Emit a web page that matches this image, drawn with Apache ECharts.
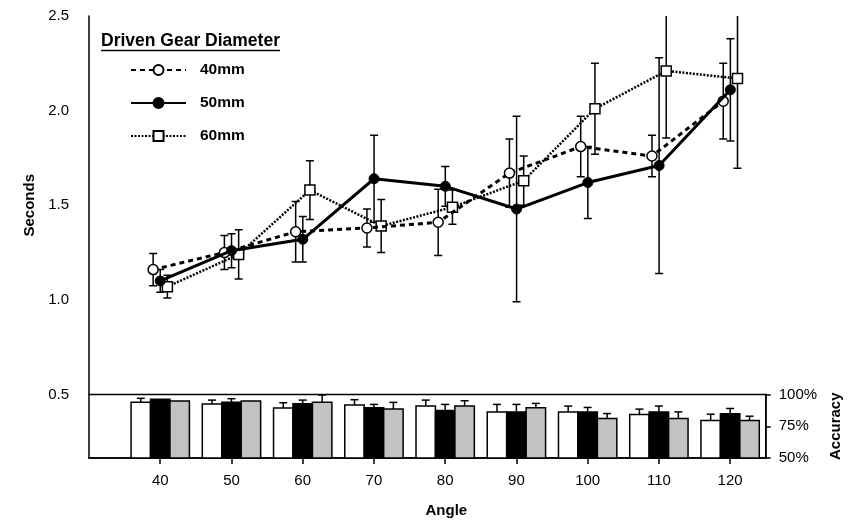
<!DOCTYPE html>
<html><head><meta charset="utf-8">
<script src="https://cdn.jsdelivr.net/npm/echarts@6/dist/echarts.min.js"></script>
<style>html,body{margin:0;padding:0;background:#fff}#c{width:851px;height:524px}</style>
</head><body><div id="c"></div>
<script>
// ---- data ----
const angles = [40, 50, 60, 70, 80, 90, 100, 110, 120];
const seriesNames = ['40mm', '50mm', '60mm'];

const secs40 = [1.16, 1.25, 1.36, 1.38, 1.41, 1.67, 1.81, 1.76, 2.05];
const err40  = [0.085, 0.09, 0.16, 0.10, 0.175, 0.18, 0.16, 0.11, 0.20];
const secs50 = [1.10, 1.26, 1.32, 1.64, 1.60, 1.48, 1.62, 1.71, 2.11];
const err50  = [0.06, 0.09, 0.12, 0.23, 0.105, 0.49, 0.19, 0.57, 0.27];
const secs60 = [1.07, 1.24, 1.58, 1.39, 1.49, 1.63, 2.01, 2.21, 2.17];
const err60  = [0.06, 0.13, 0.155, 0.14, 0.09, 0.13, 0.24, 0.355, 0.475];

const acc40    = [93.8, 92.5, 89.3, 91.7, 90.9, 86.3, 86.3, 84.3, 79.5];
const accErr40 = [3.2, 3.1, 4.2, 4.2, 4.7, 5.9, 4.6, 4.2, 5.0];
const acc50    = [96.2, 93.8, 92.7, 89.5, 87.5, 86.3, 86.3, 86.3, 84.8];
const accErr50 = [0, 2.9, 2.9, 2.7, 4.7, 5.9, 3.5, 4.6, 4.2];
const acc60    = [94.8, 94.8, 93.8, 88.5, 90.9, 89.5, 81.1, 81.1, 79.5];
const accErr60 = [0, 0, 5.8, 5.3, 4.2, 3.5, 3.9, 5.2, 3.4];

const secTicks = [0.5, 1.0, 1.5, 2.0, 2.5];
const accTicks = [50, 75, 100];

// ---- layout / style ----
const FONT = '"Liberation Sans", Arial, sans-serif';
const X_MIN = 30, X_MAX = 125;
const ACC_MIN = 50, ACC_MAX = 100;
const LINE_SHIFT = 1;     // angle units horizontal offset of 40mm / 60mm points
const BAR_W = 2.73;       // bar width in angle units

function lineData(vals, shift) { return angles.map((a, i) => [a + shift, vals[i]]); }
function errData(vals, errs, shift) { return angles.map((a, i) => [a + shift, vals[i] - errs[i], vals[i] + errs[i]]); }
function barData(vals, errs, shift) { return angles.map((a, i) => [a + shift, vals[i], errs[i]]); }

function renderErr(params, api) {
  const x = api.value(0), lo = api.value(1), hi = api.value(2);
  const p1 = api.coord([x, lo]), p2 = api.coord([x, hi]);
  const cw = 4, st = { stroke: '#000', lineWidth: 1.5 };
  return { type: 'group', children: [
    { type: 'line', shape: { x1: p1[0], y1: p1[1], x2: p2[0], y2: p2[1] }, style: st },
    { type: 'line', shape: { x1: p1[0] - cw, y1: p1[1], x2: p1[0] + cw, y2: p1[1] }, style: st },
    { type: 'line', shape: { x1: p2[0] - cw, y1: p2[1], x2: p2[0] + cw, y2: p2[1] }, style: st }
  ]};
}

function makeBarRenderer(fill) {
  return function (params, api) {
    const x = api.value(0), v = api.value(1), e = api.value(2);
    const tl = api.coord([x - BAR_W / 2, v]);
    const br = api.coord([x + BAR_W / 2, ACC_MIN]);
    const st = { stroke: '#000', lineWidth: 1.5 };
    const children = [];
    if (e > 0) {
      const top = api.coord([x, v + e]);
      children.push({ type: 'line', shape: { x1: top[0], y1: tl[1], x2: top[0], y2: top[1] }, style: st });
      children.push({ type: 'line', shape: { x1: top[0] - 4, y1: top[1], x2: top[0] + 4, y2: top[1] }, style: st });
    }
    children.push({ type: 'rect', shape: { x: tl[0], y: tl[1], width: br[0] - tl[0], height: br[1] - tl[1] },
      style: { fill: fill, stroke: '#000', lineWidth: 1.5 } });
    return { type: 'group', children };
  };
}

const chart = echarts.init(document.getElementById('c'), null, { renderer: 'canvas' });

// measure legend title for underline
const TITLE = 'Driven Gear Diameter';
const TITLE_FONT = 'bold 17.5px ' + FONT;
const mctx = document.createElement('canvas').getContext('2d');
mctx.font = TITLE_FONT;
const titleW = mctx.measureText(TITLE).width;

const labelStyle = { fontFamily: FONT, fontSize: 15, color: '#000' };
const nameStyle = { fontFamily: FONT, fontSize: 15, fontWeight: 'bold', color: '#000' };

const option = {
  animation: false,
  backgroundColor: '#fff',
  grid: [
    { left: 89, top: 16, width: 677, height: 378.5 },
    { left: 89, top: 394.5, width: 677, height: 63.5, show: true, borderColor: '#000', borderWidth: 1.5, backgroundColor: 'transparent' }
  ],
  xAxis: [
    { gridIndex: 0, type: 'value', min: X_MIN, max: X_MAX, show: false },
    { gridIndex: 1, type: 'value', min: X_MIN, max: X_MAX, interval: 10,
      axisLine: { lineStyle: { color: '#000', width: 1.5 } },
      axisTick: { customValues: angles, length: 6, lineStyle: { color: '#000', width: 1.5 } },
      axisLabel: Object.assign({ customValues: angles, margin: 15,
        formatter: v => (angles.indexOf(v) >= 0 ? String(v) : '') }, labelStyle),
      splitLine: { show: false },
      name: 'Angle', nameLocation: 'middle', nameGap: 45,
      nameTextStyle: Object.assign({ padding: [0, 0, 0, 38] }, nameStyle) }
  ],
  yAxis: [
    { gridIndex: 0, type: 'value', min: 0.5, max: 2.5, interval: 0.5,
      axisLine: { show: true, lineStyle: { color: '#000', width: 1.5 } },
      axisTick: { show: false },
      axisLabel: Object.assign({ customValues: secTicks, margin: 20, formatter: v => v.toFixed(1) }, labelStyle),
      splitLine: { show: false },
      name: 'Seconds', nameLocation: 'middle', nameRotate: 90, nameGap: 52, nameTextStyle: nameStyle },
    { gridIndex: 1, type: 'value', min: ACC_MIN, max: ACC_MAX, interval: 25, position: 'right',
      axisLine: { show: true, lineStyle: { color: '#000', width: 1.5 } },
      axisTick: { show: true, customValues: accTicks, length: 5, lineStyle: { color: '#000', width: 1.5 } },
      axisLabel: Object.assign({ customValues: accTicks, margin: 13, formatter: '{value}%' }, labelStyle),
      splitLine: { show: false },
      name: 'Accuracy', nameLocation: 'middle', nameRotate: 90, nameGap: 62, nameTextStyle: nameStyle }
  ],
  legend: {
    orient: 'vertical', left: 125, top: 57, itemWidth: 55, itemHeight: 12.5, itemGap: 17,
    selectedMode: false, data: seriesNames,
    textStyle: { fontFamily: FONT, fontSize: 15.5, fontWeight: 'bold', color: '#000', padding: [0, 0, 0, 9] }
  },
  graphic: [
    { type: 'text', x: 101, y: 41.5, style: { text: TITLE, font: TITLE_FONT, fill: '#000', verticalAlign: 'middle' } },
    { type: 'line', shape: { x1: 101, y1: 50.5, x2: 101 + titleW, y2: 50.5 }, style: { stroke: '#000', lineWidth: 1.3 } }
  ],
  series: [
    // error bars (seconds)
    { type: 'custom', name: 'err40', xAxisIndex: 0, yAxisIndex: 0, clip: true, z: 2, renderItem: renderErr, data: errData(secs40, err40, -LINE_SHIFT) },
    { type: 'custom', name: 'err50', xAxisIndex: 0, yAxisIndex: 0, clip: true, z: 2, renderItem: renderErr, data: errData(secs50, err50, 0) },
    { type: 'custom', name: 'err60', xAxisIndex: 0, yAxisIndex: 0, clip: true, z: 2, renderItem: renderErr, data: errData(secs60, err60, LINE_SHIFT) },
    // lines
    { type: 'line', name: '40mm', xAxisIndex: 0, yAxisIndex: 0, z: 5, data: lineData(secs40, -LINE_SHIFT),
      symbol: 'circle', symbolSize: 10,
      lineStyle: { color: '#000', width: 3, type: [5, 4] },
      itemStyle: { color: '#fff', borderColor: '#000', borderWidth: 1.5 } },
    { type: 'line', name: '50mm', xAxisIndex: 0, yAxisIndex: 0, z: 6, data: lineData(secs50, 0),
      symbol: 'circle', symbolSize: 10,
      lineStyle: { color: '#000', width: 3 },
      itemStyle: { color: '#000', borderColor: '#000', borderWidth: 1 } },
    { type: 'line', name: '60mm', xAxisIndex: 0, yAxisIndex: 0, z: 4, data: lineData(secs60, LINE_SHIFT),
      symbol: 'rect', symbolSize: 10,
      lineStyle: { color: '#000', width: 2.5, type: [2, 1.5] },
      itemStyle: { color: '#fff', borderColor: '#000', borderWidth: 1.5 } },
    // accuracy bars
    { type: 'custom', name: 'acc40', xAxisIndex: 1, yAxisIndex: 1, z: 3, renderItem: makeBarRenderer('#fff'), data: barData(acc40, accErr40, -BAR_W) },
    { type: 'custom', name: 'acc50', xAxisIndex: 1, yAxisIndex: 1, z: 3, renderItem: makeBarRenderer('#000'), data: barData(acc50, accErr50, 0) },
    { type: 'custom', name: 'acc60', xAxisIndex: 1, yAxisIndex: 1, z: 3, renderItem: makeBarRenderer('#c2c2c2'), data: barData(acc60, accErr60, BAR_W) }
  ]
};
chart.setOption(option);
</script>
</body></html>
